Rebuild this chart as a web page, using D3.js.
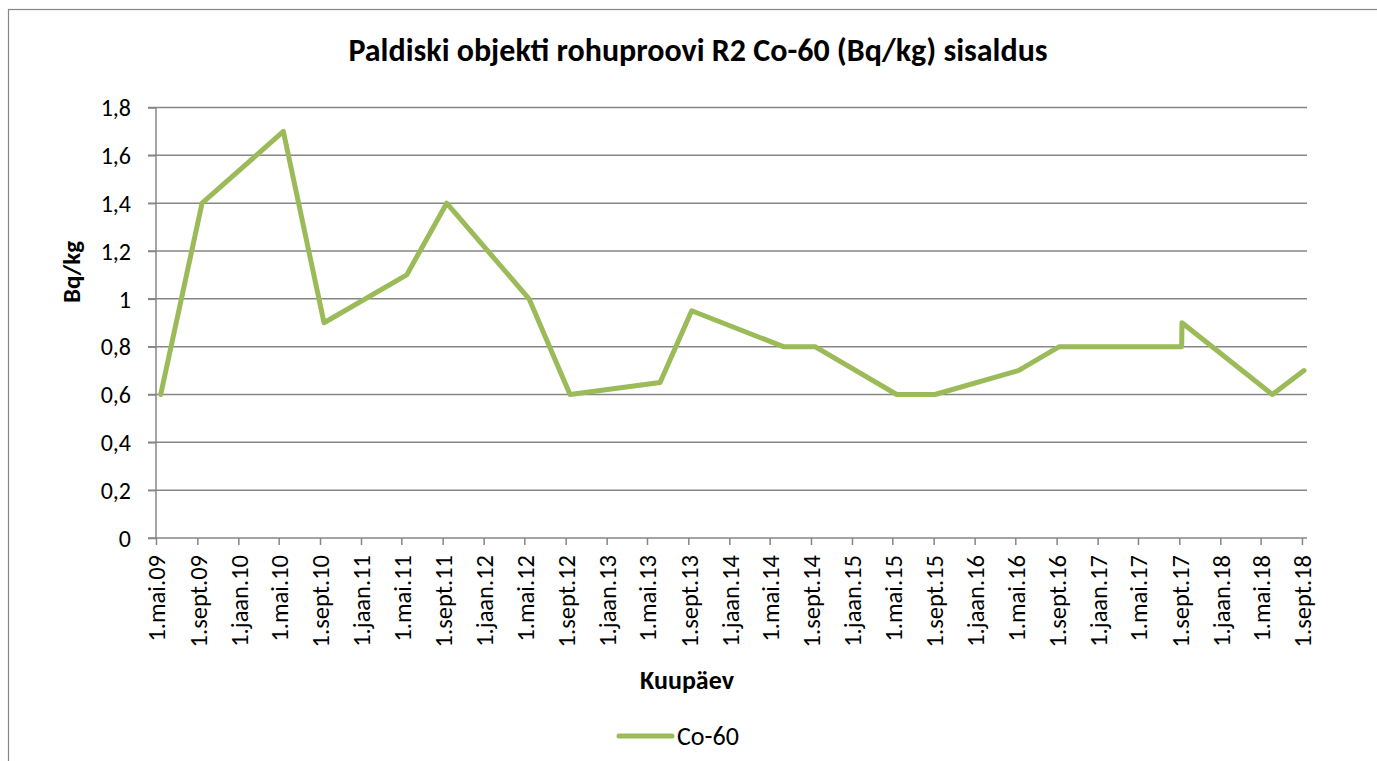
<!DOCTYPE html>
<html>
<head>
<meta charset="utf-8">
<script src="https://cdn.jsdelivr.net/npm/d3@7"></script>
<style>
  html, body { margin: 0; padding: 0; background: #fff; }
  svg { display: block; }
  text { font-family: Carlito, Lato, "Open Sans", sans-serif; fill: #000; }
</style>
</head>
<body>
<svg id="chart" width="1377" height="761"></svg>
<script>
// ---- Data ----
const title = "Paldiski objekti rohuproovi R2 Co-60 (Bq/kg) sisaldus";
const seriesName = "Co-60";
const yTitle = "Bq/kg";
const xTitle = "Kuupäev";
const dates = [
  "2009-05-15", "2009-09-15", "2010-05-15", "2010-09-13", "2011-05-17",
  "2011-09-13", "2012-05-15", "2012-09-14", "2013-06-09", "2013-09-11",
  "2014-06-11", "2014-09-13", "2015-05-14", "2015-09-05", "2016-05-10",
  "2016-09-09", "2017-09-08", "2017-09-09", "2018-06-05", "2018-09-07"
];
const values = [
  0.6, 1.4, 1.7, 0.9, 1.1,
  1.4, 1.0, 0.6, 0.65, 0.95,
  0.8, 0.8, 0.6, 0.6, 0.7,
  0.8, 0.8, 0.9, 0.6, 0.7
];
const tickDates = [
  "2009-05-01","2009-09-01","2010-01-01","2010-05-01","2010-09-01","2011-01-01",
  "2011-05-01","2011-09-01","2012-01-01","2012-05-01","2012-09-01","2013-01-01",
  "2013-05-01","2013-09-01","2014-01-01","2014-05-01","2014-09-01","2015-01-01",
  "2015-05-01","2015-09-01","2016-01-01","2016-05-01","2016-09-01","2017-01-01",
  "2017-05-01","2017-09-01","2018-01-01","2018-05-01","2018-09-01"
];
const tickLabels = [
  "1.mai.09","1.sept.09","1.jaan.10","1.mai.10","1.sept.10","1.jaan.11",
  "1.mai.11","1.sept.11","1.jaan.12","1.mai.12","1.sept.12","1.jaan.13",
  "1.mai.13","1.sept.13","1.jaan.14","1.mai.14","1.sept.14","1.jaan.15",
  "1.mai.15","1.sept.15","1.jaan.16","1.mai.16","1.sept.16","1.jaan.17",
  "1.mai.17","1.sept.17","1.jaan.18","1.mai.18","1.sept.18"
];
const yTicks = [0, 0.2, 0.4, 0.6, 0.8, 1, 1.2, 1.4, 1.6, 1.8];
const xDomain = ["2009-05-01", "2018-09-16"];
const yDomain = [0, 1.8];

// ---- Drawing ----
const parse = d3.utcParse("%Y-%m-%d");
const svg = d3.select("#chart");
const gridColor = "#868686";
const lineColor = "#9BBB59";
const FONT = "Carlito, Lato, sans-serif";

// outer chart border
svg.append("rect")
  .attr("x", 8.5).attr("y", 9.5)
  .attr("width", 1400).attr("height", 800)
  .attr("fill", "none").attr("stroke", gridColor).attr("stroke-width", 1.2);

const pLeft = 156, pRight = 1307, pTop = 107.5, pBottom = 538;
const x = d3.scaleUtc().domain(xDomain.map(parse)).range([pLeft, pRight]);
const y = d3.scaleLinear().domain(yDomain).range([pBottom, pTop]);

// gridlines
svg.append("g").selectAll("line").data(yTicks.filter(v => v !== 0)).join("line")
  .attr("x1", pLeft - 8).attr("x2", pRight)
  .attr("y1", d => y(d)).attr("y2", d => y(d))
  .attr("stroke", gridColor).attr("stroke-width", 1.5);

// y axis
const yAxis = d3.axisLeft(y).tickValues(yTicks).tickSize(8)
  .tickFormat(d => String(d).replace(".", ","));
const gy = svg.append("g").attr("transform", `translate(${pLeft},0)`).call(yAxis);
gy.select(".domain").attr("stroke", gridColor).attr("stroke-width", 1.5)
  .attr("d", `M0,${pTop}V${pBottom}`);
gy.selectAll(".tick line").attr("stroke", gridColor).attr("stroke-width", 1.5);
gy.selectAll(".tick text").attr("font-size", 24).attr("font-family", FONT)
  .attr("fill", "#000").attr("x", -25).attr("dy", "0.34em");

// x axis
const xAxis = d3.axisBottom(x).tickValues(tickDates.map(parse)).tickSize(7)
  .tickFormat((d, i) => tickLabels[i]);
const gx = svg.append("g").attr("transform", `translate(0,${pBottom})`).call(xAxis);
gx.select(".domain").attr("stroke", gridColor).attr("stroke-width", 1.5)
  .attr("d", `M${pLeft - 8},0H${pRight}`);
gx.selectAll(".tick line").attr("stroke", gridColor).attr("stroke-width", 1.5);
gx.selectAll(".tick text")
  .attr("font-size", 24.5).attr("font-family", FONT).attr("fill", "#000")
  .attr("text-anchor", "end").attr("dy", "0.36em")
  .attr("transform", "translate(0,17) rotate(-90)")
  .attr("x", 0).attr("y", 0);

// line
const data = dates.map((d, i) => ({ date: parse(d), value: values[i] }));
const line = d3.line().x(d => x(d.date)).y(d => y(d.value));
svg.append("path").datum(data)
  .attr("d", line)
  .attr("fill", "none").attr("stroke", lineColor).attr("stroke-width", 5)
  .attr("stroke-linejoin", "round").attr("stroke-linecap", "round");

// title
svg.append("text").attr("x", 698).attr("y", 61).attr("text-anchor", "middle")
  .attr("font-size", 32).attr("font-weight", "bold").text(title);

// axis titles
svg.append("text").attr("transform", "translate(80,272) rotate(-90)")
  .attr("text-anchor", "middle").attr("font-size", 25).attr("font-weight", "bold").text(yTitle);
svg.append("text").attr("x", 687).attr("y", 689).attr("text-anchor", "middle")
  .attr("font-size", 26).attr("font-weight", "bold").text(xTitle);

// legend
svg.append("line").attr("x1", 619).attr("x2", 672).attr("y1", 736).attr("y2", 736)
  .attr("stroke", lineColor).attr("stroke-width", 5).attr("stroke-linecap", "round");
svg.append("text").attr("x", 677).attr("y", 745).attr("font-size", 26).text(seriesName);
</script>
</body>
</html>
